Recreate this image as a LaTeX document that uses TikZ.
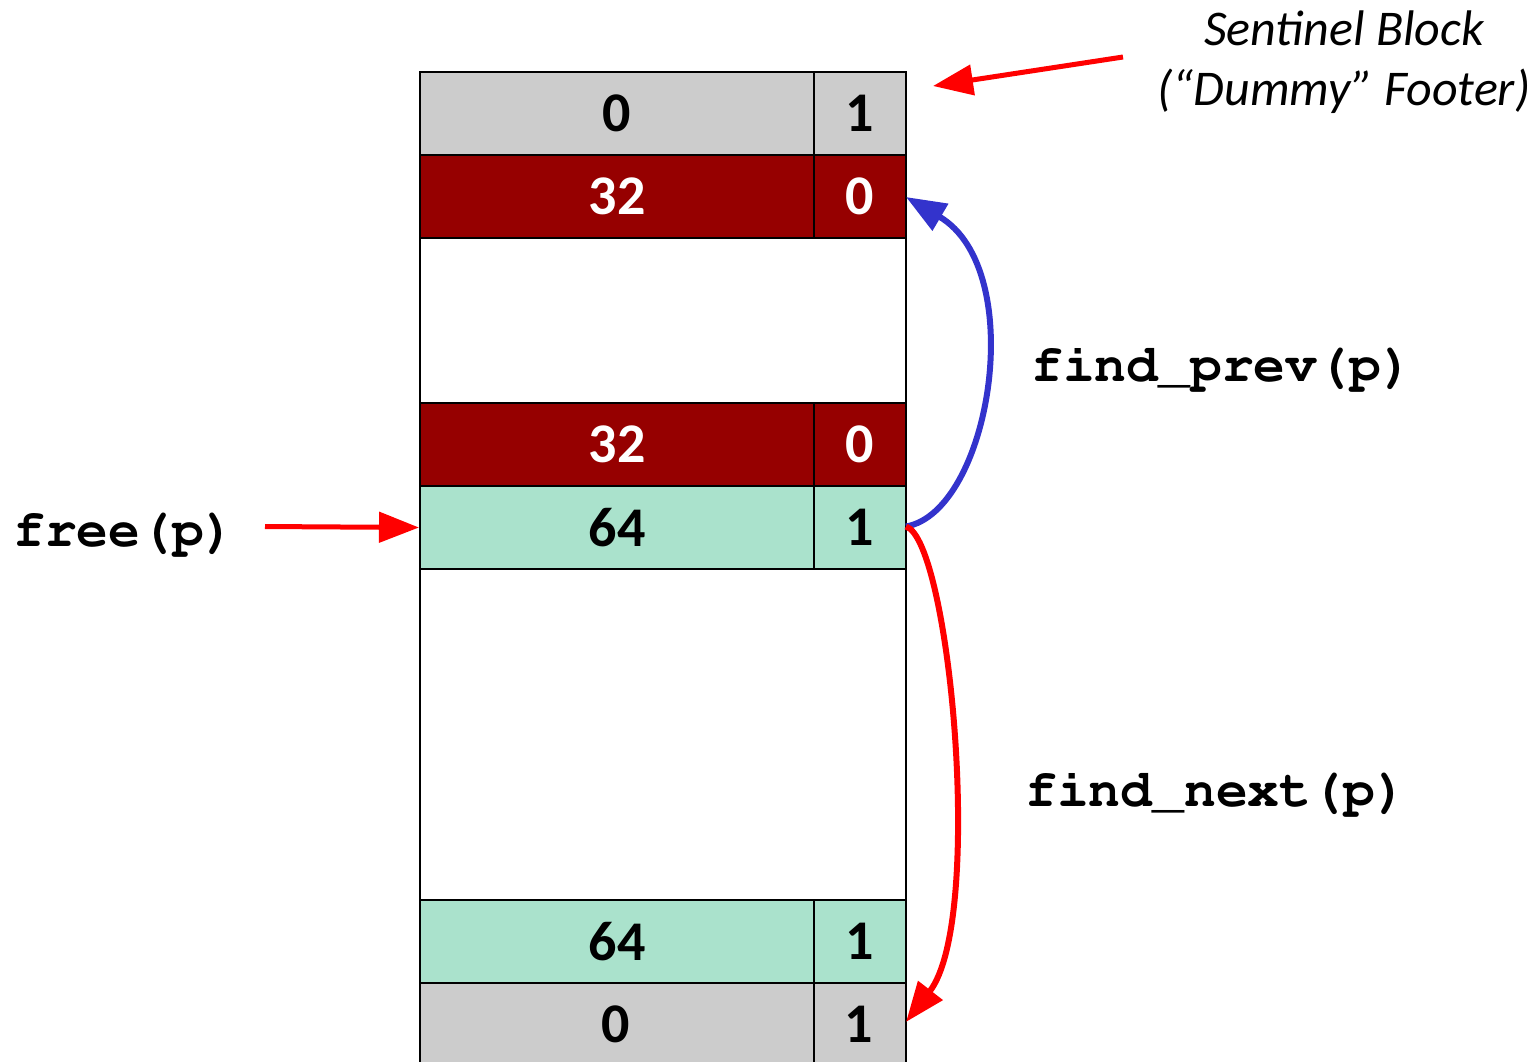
\documentclass[tikz,border=0pt]{standalone}
\usepackage[T1]{fontenc}
\usepackage{fontspec}
\setmainfont{Carlito}
\usetikzlibrary{arrows.meta}

% bold Courier (URW Nimbus Mono) for the function names
\newcommand{\codeface}{\fontencoding{T1}\fontfamily{pcr}\fontseries{b}\selectfont}

\definecolor{sentgray}{HTML}{CCCCCC}
\definecolor{alloc}{HTML}{960000}
\definecolor{freed}{RGB}{170,226,204}
\definecolor{prevblue}{HTML}{3333CC}
\definecolor{ptrred}{HTML}{FF0000}

\tikzset{
  cell/.style={draw=black, line width=2pt, anchor=north west, inner sep=0pt,
               font=\fontsize{56}{60}\selectfont\bfseries, minimum height=83pt},
  sizecell/.style={cell, minimum width=394pt},
  bitcell/.style={cell, minimum width=92pt},
  gapcell/.style={cell, minimum width=486pt},
  code/.style={font=\fontsize{53}{56}\codeface, inner sep=0pt},
  ptr/.style={line width=5pt, -{Triangle[length=40pt,width=30pt]}},
  curveptr/.style={ptr, line width=6pt},
}

\begin{document}
\begin{tikzpicture}[x=1pt,y=-1pt]
  \useasboundingbox (0,0) rectangle (1540,1061);

  % heap blocks, top to bottom
  \node[sizecell, fill=sentgray] (s0)  at (419,71)  {0};
  \node[bitcell,  fill=sentgray] (sb0) at (813,71)  {1};
  \node[sizecell, fill=alloc, text=white] (h1)  at (419,154) {32};
  \node[bitcell,  fill=alloc, text=white] (hb1) at (813,154) {0};
  \node[gapcell, fill=white, minimum height=165pt] (p1) at (419,237) {};
  \node[sizecell, fill=alloc, text=white] (f1)  at (419,402) {32};
  \node[bitcell,  fill=alloc, text=white] (fb1) at (813,402) {0};
  \node[sizecell, fill=freed] (h2)  at (419,485) {64};
  \node[bitcell,  fill=freed] (hb2) at (813,485) {1};
  \node[gapcell, fill=white, minimum height=331pt] (p2) at (419,568) {};
  \node[sizecell, fill=freed] (f2)  at (419,899) {64};
  \node[bitcell,  fill=freed] (fb2) at (813,899) {1};
  \node[sizecell, fill=sentgray, minimum height=90pt] (s1)  at (419,982) {};
  \node[bitcell,  fill=sentgray, minimum height=90pt] (sb1) at (813,982) {};
  \node[font=\fontsize{56}{60}\selectfont\bfseries] (s1t)  at (616,1024) {0};
  \node[font=\fontsize{56}{60}\selectfont\bfseries] (sb1t) at (859,1024) {1};

  % labels
  \node[font=\itshape\fontsize{50}{60}\selectfont, align=center] (sent) at (1344,62)
    {Sentinel Block\\(“Dummy” Footer)};
  \node[code, anchor=base west] (freep) at (13,546) {free(p)};
  \node[code, anchor=base west] (prev) at (1031,381) {find\_prev(p)};
  \node[code, anchor=base west] (next) at (1025,806) {find\_next(p)};

  % arrows
  \coordinate (sentfrom) at (1123,57);
  \coordinate (sentto) at (933,86);
  \draw[ptr, ptrred] (sentfrom) -- (sentto);
  \coordinate (freefrom) at (265,526.5);
  \draw[ptr, ptrred] (freefrom) -- (h2.west);
  \coordinate (hdr) at (906,526.5);
  \coordinate (prevto) at (906,197);
  \coordinate (nextto) at (906,1022);
  \draw[curveptr, prevblue] (hdr) .. controls (990,512) and (1030,270) .. (prevto);
  \draw[curveptr, ptrred] (hdr) .. controls (950,540) and (985,920) .. (nextto);
\end{tikzpicture}
\end{document}
